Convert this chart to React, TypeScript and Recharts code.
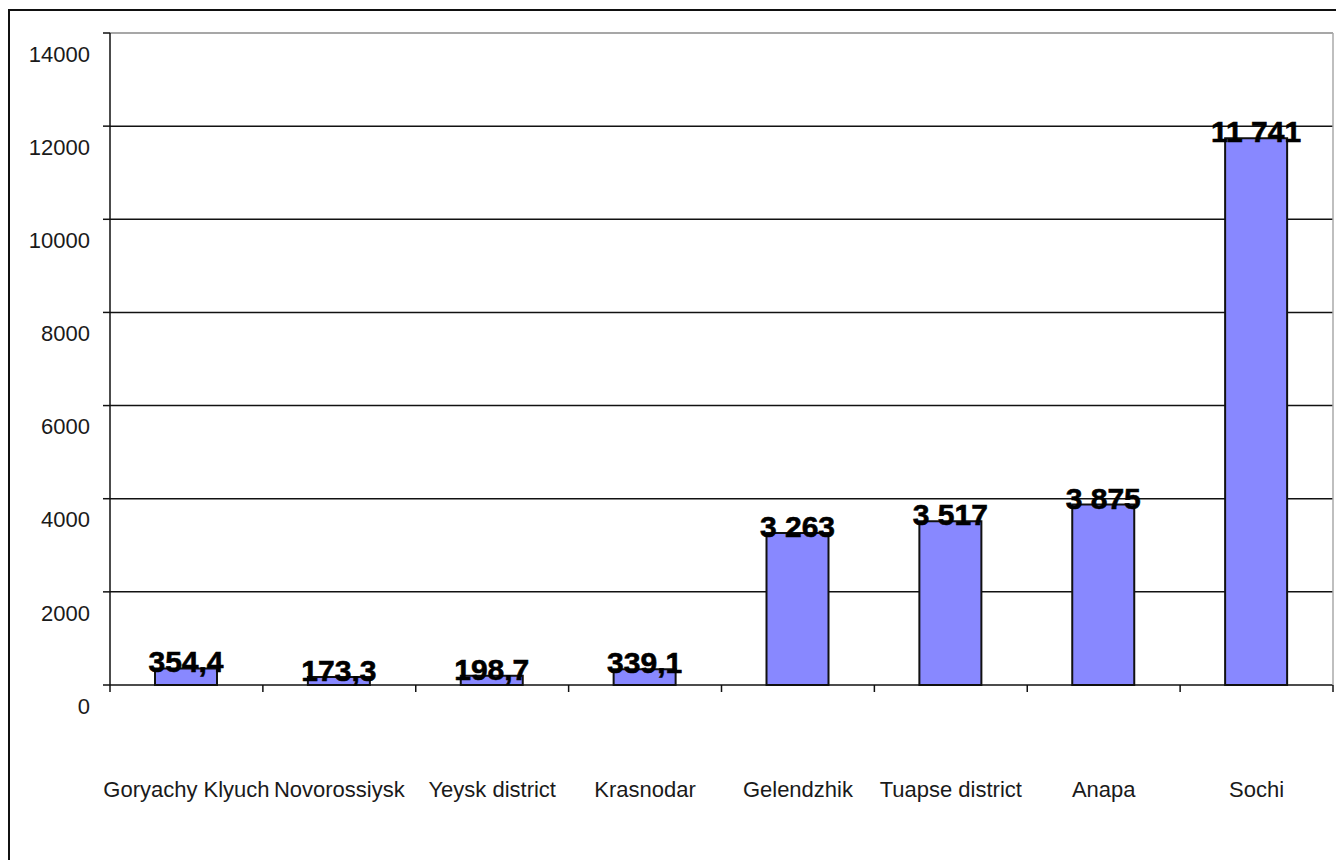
import { BarChart, Bar, XAxis, YAxis, CartesianGrid, ReferenceLine, LabelList } from "recharts";

const categories = [
  "Goryachy Klyuch",
  "Novorossiysk",
  "Yeysk district",
  "Krasnodar",
  "Gelendzhik",
  "Tuapse district",
  "Anapa",
  "Sochi",
];
const values = [354.4, 173.3, 198.7, 339.1, 3263, 3517, 3875, 11741];
const yTicks = [0, 2000, 4000, 6000, 8000, 10000, 12000, 14000];

const data = categories.map((name, i) => ({ name, value: values[i] }));

const FONT = "'Liberation Sans', Arial, sans-serif";

// 354,4 / 3 263 / 11 741
function fmt(v: number) {
  if (v < 1000) return v.toFixed(1).replace(".", ",");
  return Math.round(v)
    .toString()
    .replace(/\B(?=(\d{3})+(?!\d))/g, " ");
}

function YTick(props: any) {
  const { x, y, payload } = props;
  return (
    <text x={x} y={y + 21} dy="0.35em" textAnchor="end" fontSize={22} fill="#1a1a1a" fontFamily={FONT}>
      {payload.value}
    </text>
  );
}

// category label plus the tick marks on the category boundaries (Excel style)
function CatTick(props: any) {
  const { x, y, payload, index, width, visibleTicksCount } = props;
  const band = width / visibleTicksCount;
  const left = x - band / 2;
  const right = x + band / 2;
  return (
    <g>
      <line x1={left} x2={left} y1={y} y2={y + 7} stroke="#111" strokeWidth={1.5} />
      {index === visibleTicksCount - 1 && (
        <line x1={right} x2={right} y1={y} y2={y + 7} stroke="#111" strokeWidth={1.5} />
      )}
      <text x={x} y={y + 112} textAnchor="middle" fontSize={22} fill="#1a1a1a" fontFamily={FONT}>
        {payload.value}
      </text>
    </g>
  );
}

function ValueLabel(props: any) {
  const { x, y, width, value } = props;
  return (
    <text
      x={x + width / 2}
      y={y + 4}
      textAnchor="middle"
      fontSize={30}
      fontWeight="bold"
      fill="#000"
      stroke="#000"
      strokeWidth={0.6}
      fontFamily={FONT}
    >
      {fmt(value)}
    </text>
  );
}

export default function App() {
  return (
    <div style={{ position: "absolute", left: 0, top: 0, width: 1336, height: 860, overflow: "hidden", background: "#fff" }}>
      <div
        style={{
          position: "absolute",
          left: 8,
          top: 9,
          width: 1400,
          height: 900,
          border: "2px solid #111",
          boxSizing: "border-box",
        }}
      />
      <div style={{ position: "absolute", left: 0, top: 0 }}>
        <BarChart
          width={1336}
          height={860}
          data={data}
          margin={{ top: 33, right: 2, left: 10, bottom: 55 }}
          barSize={62}
        >
          <CartesianGrid
            vertical={false}
            stroke="#111"
            strokeWidth={1.5}
            horizontalValues={[2000, 4000, 6000, 8000, 10000, 12000]}
          />
          <XAxis
            dataKey="name"
            axisLine={{ stroke: "#111", strokeWidth: 1.5 }}
            tickLine={false}
            tickSize={0}
            tickMargin={0}
            height={120}
            interval={0}
            tick={<CatTick />}
          />
          <YAxis
            domain={[0, 14000]}
            ticks={yTicks}
            width={100}
            tickSize={7}
            tickMargin={13}
            stroke="#111"
            strokeWidth={1.5}
            tick={<YTick />}
          />
          <YAxis
            yAxisId="frame"
            orientation="right"
            domain={[0, 14000]}
            width={1}
            tick={false}
            tickLine={false}
            axisLine={{ stroke: "#aaa", strokeWidth: 1.5 }}
          />
          <ReferenceLine y={14000} stroke="#8a8a8a" strokeWidth={1.5} />
          <Bar dataKey="value" fill="#8888ff" stroke="#111" strokeWidth={2} isAnimationActive={false}>
            <LabelList dataKey="value" content={<ValueLabel />} />
          </Bar>
        </BarChart>
      </div>
    </div>
  );
}
